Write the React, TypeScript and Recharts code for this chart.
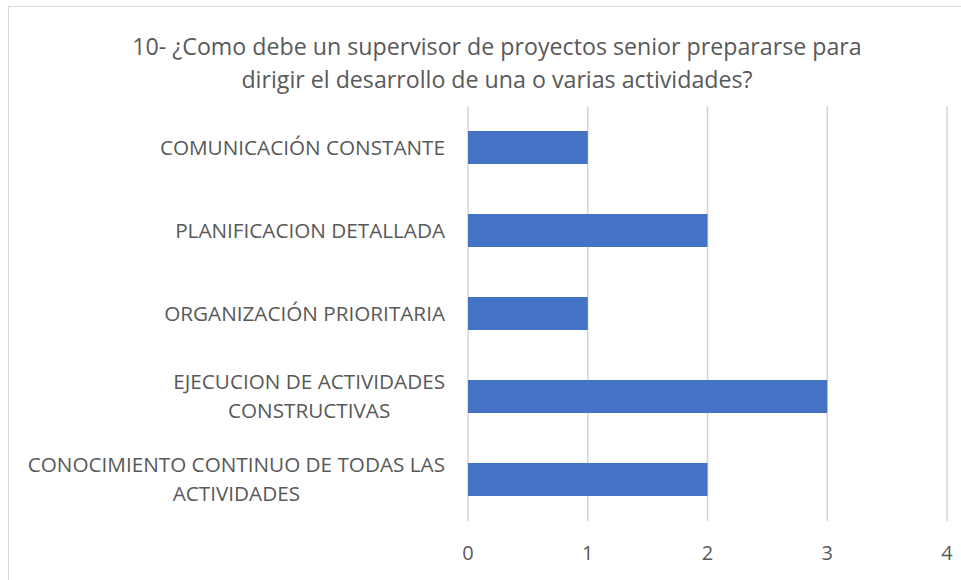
import React from 'react'
import { BarChart, Bar, XAxis, YAxis, CartesianGrid } from 'recharts'

const categories = [
  'COMUNICACIÓN CONSTANTE',
  'PLANIFICACION DETALLADA',
  'ORGANIZACIÓN PRIORITARIA',
  'EJECUCION DE ACTIVIDADES|CONSTRUCTIVAS',
  'CONOCIMIENTO CONTINUO DE TODAS LAS|ACTIVIDADES',
]
const values = [1, 2, 1, 3, 2]
const xTicks = [0, 1, 2, 3, 4]
const titleLines = [
  '10- ¿Como debe un supervisor de proyectos senior prepararse para',
  'dirigir el desarrollo de una o varias actividades?',
]

const data = categories.map((name, i) => ({ name, value: values[i] }))

const FONT = '"Open Sans", sans-serif'
const TEXT = '#595959'
const LABEL_SIZE = 20.7

let ctx: CanvasRenderingContext2D | null = null
const measure = (s: string) => {
  if (!ctx) ctx = document.createElement('canvas').getContext('2d')
  if (!ctx) return s.length * 11
  ctx.font = `${LABEL_SIZE}px "Open Sans"`
  return ctx.measureText(s).width
}

const CategoryTick = (props: any) => {
  const { x, y, payload } = props
  const lines: string[] = String(payload.value).split('|')
  const block = Math.max(...lines.map(measure))
  const cx = x - 15 - block / 2
  const lh = 29
  const start = y - ((lines.length - 1) * lh) / 2
  return (
    <g>
      {lines.map((l, i) => (
        <text key={i} x={cx} y={start + i * lh} dy="0.35em" textAnchor="middle" fill={TEXT} fontSize={LABEL_SIZE} fontFamily={FONT}>
          {l}
        </text>
      ))}
    </g>
  )
}

export default function App() {
  return (
    <div style={{ position: 'absolute', left: 0, top: 0, width: 961, height: 580, background: '#fff', overflow: 'hidden' }}>
      <div style={{ position: 'absolute', left: 8, top: 6, width: 960, height: 580, border: '1px solid #d9d9d9', boxSizing: 'border-box' }} />
      <div style={{ position: 'absolute', left: 0, top: 30, width: 994, textAlign: 'center', fontFamily: FONT, fontSize: 23.2, color: TEXT, lineHeight: '33px' }}>
        {titleLines.map((t, i) => (
          <div key={i}>{t}</div>
        ))}
      </div>
      <div style={{ position: 'absolute', left: 0, top: 0 }}>
        <BarChart width={961} height={580} data={data} layout="vertical" margin={{ top: 106, right: 14, bottom: 19, left: 0 }}>
          <CartesianGrid horizontal={false} stroke="#d4d4d4" strokeWidth={1.5} />
          <XAxis type="number" domain={[0, 4]} ticks={xTicks} axisLine={false} tickLine={false} tickMargin={19} height={40}
            tick={{ fill: TEXT, fontSize: 20, fontFamily: FONT }} />
          <YAxis type="category" dataKey="name" width={468} axisLine={false} tickLine={false} tick={<CategoryTick />} interval={0} />
          <Bar dataKey="value" fill="#4472C4" barSize={33} isAnimationActive={false} />
        </BarChart>
      </div>
    </div>
  )
}
